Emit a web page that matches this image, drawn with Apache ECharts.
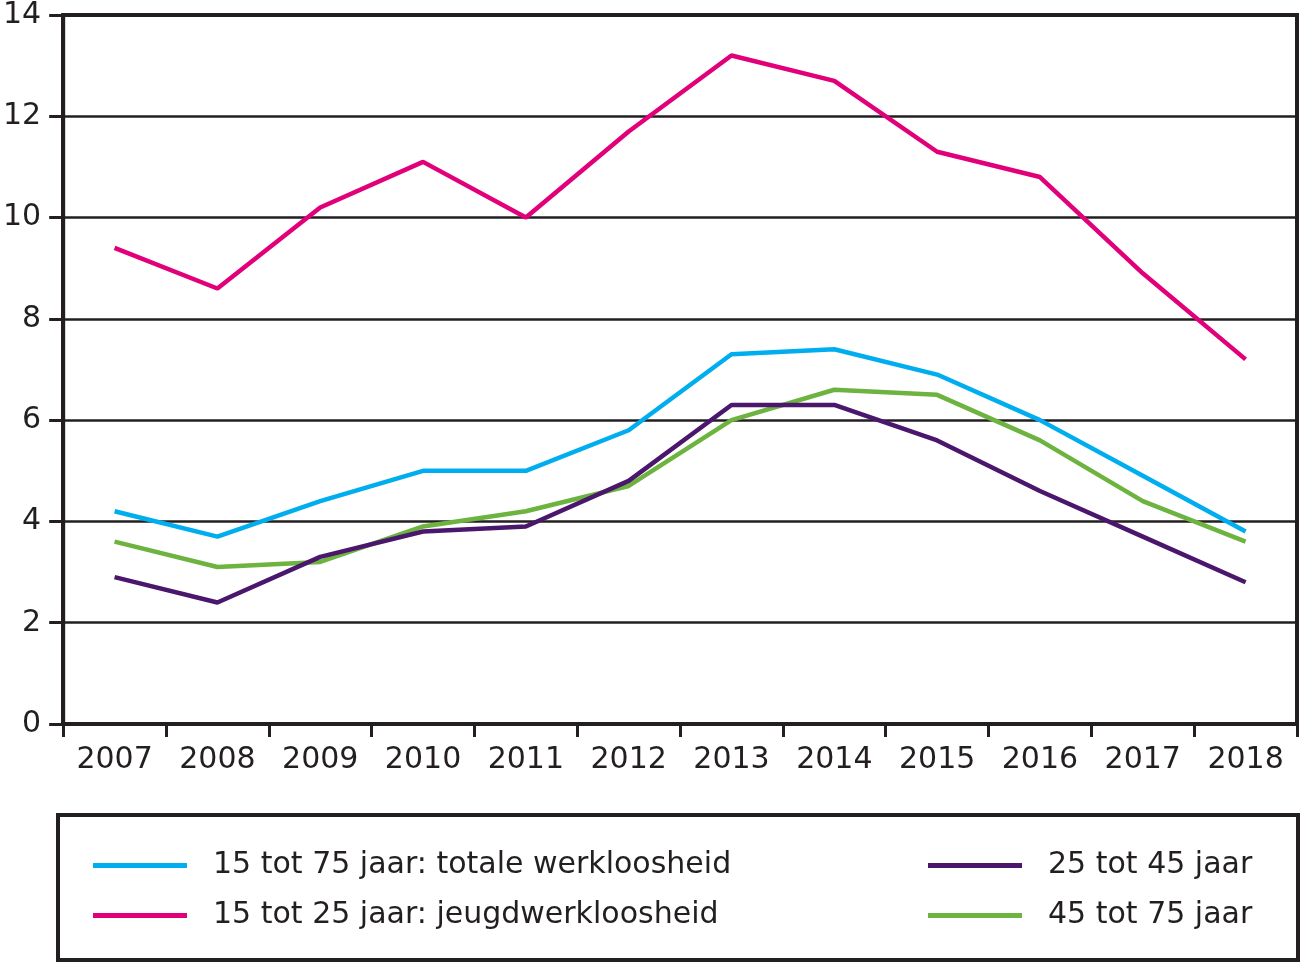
<!DOCTYPE html>
<html>
<head>
<meta charset="utf-8">
<script src="https://cdn.jsdelivr.net/npm/echarts@6/dist/echarts.min.js"></script>
<style>html,body{margin:0;padding:0;background:#fff;}#c{width:1300px;height:963px;}</style>
</head>
<body>
<div id="c"></div>
<script>
const years = ['2007','2008','2009','2010','2011','2012','2013','2014','2015','2016','2017','2018'];
const totaal = [4.2,3.7,4.4,5.0,5.0,5.8,7.3,7.4,6.9,6.0,4.9,3.8];
const jeugd = [9.4,8.6,10.2,11.1,10.0,11.7,13.2,12.7,11.3,10.8,8.9,7.2];
const midden = [2.9,2.4,3.3,3.8,3.9,4.8,6.3,6.3,5.6,4.6,3.7,2.8];
const ouder = [3.6,3.1,3.2,3.9,4.2,4.7,6.0,6.6,6.5,5.6,4.4,3.6];
const yTicks = {min:0, max:14, interval:2};
const names = ['15 tot 75 jaar: totale werkloosheid','15 tot 25 jaar: jeugdwerkloosheid','25 tot 45 jaar','45 tot 75 jaar'];
const colors = ['#00aeef','#e2007a','#4a176d','#6db33f'];
const ink = '#231f20';
const font = 'DejaVu Sans, sans-serif';

const chart = echarts.init(document.getElementById('c'), null, {renderer:'canvas'});
const seriesData = [totaal, jeugd, midden, ouder];
const legendText = {color: ink, fontSize: 30, fontFamily: font, lineHeight: 31, padding:[0,0,0,21]};
chart.setOption({
  animation:false,
  grid:{left:59, right:3, top:15, bottom:239, show:true, borderColor:ink, borderWidth:4, containLabel:false},
  xAxis:{type:'category', data:years, boundaryGap:true,
    axisLine:{show:true, lineStyle:{color:ink, width:4}},
    axisTick:{show:true, length:13, lineStyle:{color:ink, width:3}, alignWithLabel:false},
    axisLabel:{color:ink, fontSize:30, fontFamily:font, margin:21},
    splitLine:{show:false}},
  yAxis:{type:'value', min:yTicks.min, max:yTicks.max, interval:yTicks.interval,
    axisLine:{show:true, lineStyle:{color:ink, width:4}},
    axisTick:{show:true, length:14, lineStyle:{color:ink, width:3}},
    axisLabel:{color:ink, fontSize:30, fontFamily:font, margin:22},
    splitLine:{show:true, lineStyle:{color:ink, width:2.5}}},
  legend:[
    {data:[names[0],names[1]], orient:'vertical', left:93, top:850, padding:0, icon:'rect', itemWidth:94, itemHeight:5, itemGap:19, textStyle:legendText},
    {data:[names[2],names[3]], orient:'vertical', left:928, top:850, padding:0, icon:'rect', itemWidth:94, itemHeight:5, itemGap:19, textStyle:legendText}
  ],
  graphic:[{type:'rect', shape:{x:58, y:815, width:1240, height:145}, style:{fill:'none', stroke:ink, lineWidth:4}}],
  series: seriesData.map((d,i)=>({name:names[i], type:'line', data:d, showSymbol:false, symbol:'none',
    lineStyle:{color:colors[i], width:4.5}, itemStyle:{color:colors[i]}, z: 10-i}))
});
</script>
</body>
</html>
